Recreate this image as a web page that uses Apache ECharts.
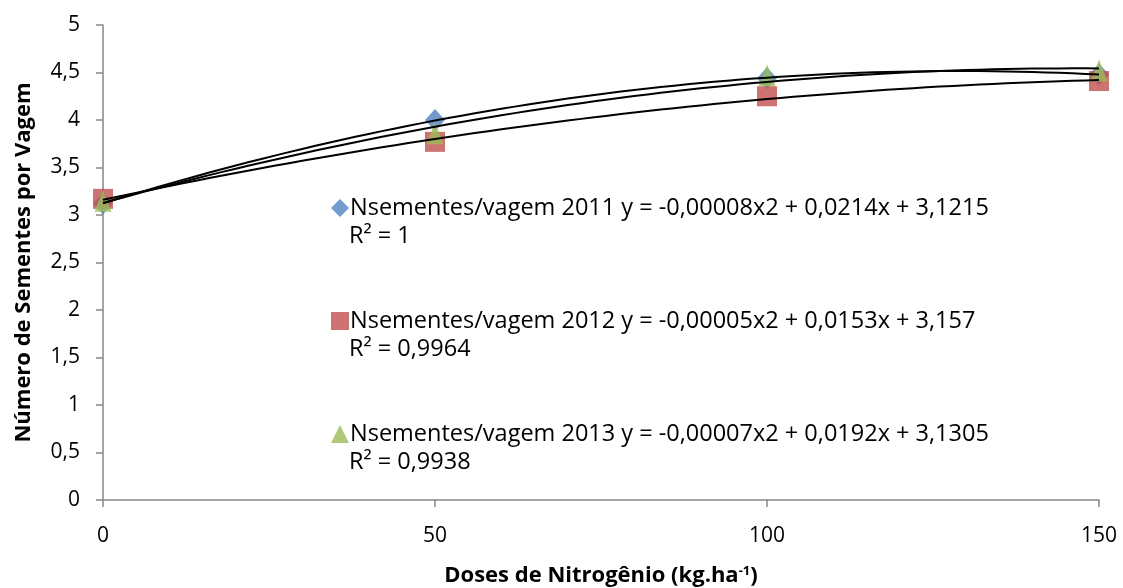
<!DOCTYPE html>
<html>
<head>
<meta charset="utf-8">
<script src="https://cdn.jsdelivr.net/npm/echarts@6/dist/echarts.min.js"></script>
<style>
  html, body { margin: 0; padding: 0; background: #fff; }
  #chart { width: 1123px; height: 588px; }
</style>
</head>
<body>
<div id="chart"></div>
<script>
// Nitrogen doses (kg/ha)
const doses = [0, 50, 100, 150];

// Seeds per pod, one array per season
const seeds2011 = [3.12, 4.00, 4.44, 4.48];
const seeds2012 = [3.17, 3.77, 4.25, 4.41];
const seeds2013 = [3.15, 3.86, 4.47, 4.52];

const seriesNames = ['Nsementes/vagem 2011', 'Nsementes/vagem 2012', 'Nsementes/vagem 2013'];
const equations = [
  'y = -0,00008x2 + 0,0214x + 3,1215',
  'y = -0,00005x2 + 0,0153x + 3,157',
  'y = -0,00007x2 + 0,0192x + 3,1305'
];
const rSquared = ['R² = 1', 'R² = 0,9964', 'R² = 0,9938'];

const FONT = '"Open Sans", "Noto Sans", sans-serif';

// Least-squares quadratic trendline through a season's points
function quadFit(xs, ys) {
  let s = [0, 0, 0, 0, 0], t = [0, 0, 0];
  for (let i = 0; i < xs.length; i++) {
    let p = 1;
    for (let k = 0; k < 5; k++) { s[k] += p; p *= xs[i]; }
    t[0] += ys[i]; t[1] += ys[i] * xs[i]; t[2] += ys[i] * xs[i] * xs[i];
  }
  const M = [[s[0], s[1], s[2], t[0]], [s[1], s[2], s[3], t[1]], [s[2], s[3], s[4], t[2]]];
  for (let c = 0; c < 3; c++) {
    for (let r = c + 1; r < 3; r++) {
      const f = M[r][c] / M[c][c];
      for (let k = c; k < 4; k++) M[r][k] -= f * M[c][k];
    }
  }
  const coef = [0, 0, 0];
  for (let r = 2; r >= 0; r--) {
    let v = M[r][3];
    for (let k = r + 1; k < 3; k++) v -= M[r][k] * coef[k];
    coef[r] = v / M[r][r];
  }
  return coef; // [c, b, a]
}

function trendPoints(ys) {
  const [c, b, a] = quadFit(doses, ys);
  const pts = [];
  for (let x = doses[0]; x <= doses[doses.length - 1]; x += 2) {
    pts.push([x, a * x * x + b * x + c]);
  }
  return pts;
}

const pairs = ys => doses.map((d, i) => [d, ys[i]]);

const chart = echarts.init(document.getElementById('chart'), null, { renderer: 'canvas' });

const trendStyle = {
  type: 'line', showSymbol: false, symbol: 'none', smooth: false,
  lineStyle: { color: '#000', width: 2 }, z: 5, silent: true, legendHoverLink: false
};

chart.setOption({
  animation: false,
  backgroundColor: '#fff',
  textStyle: { fontFamily: FONT },
  grid: { left: 103, right: 24, top: 25, bottom: 88, containLabel: false, outerBoundsMode: 'none' },
  legend: {
    data: seriesNames,
    orient: 'vertical',
    left: 326,
    top: 189,
    itemGap: 85,
    itemWidth: 18,
    itemHeight: 18,
    selectedMode: false,
    formatter: name => name + ' ' + equations[seriesNames.indexOf(name)],
    textStyle: { fontFamily: FONT, fontSize: 23.5, color: '#000', lineHeight: 28, padding: [0, 0, 0, -4] }
  },
  graphic: rSquared.map((txt, i) => ({
    type: 'text',
    x: 349,
    y: 236 + i * 113,
    style: { text: txt, font: '23.5px ' + FONT, fill: '#000', verticalAlign: 'middle' }
  })),
  xAxis: {
    type: 'value',
    min: 0, max: 150, interval: 50,
    name: 'Doses de Nitrogênio (kg.ha{sup|-1})',
    nameLocation: 'middle',
    nameGap: 65,
    nameTextStyle: {
      fontFamily: FONT, fontSize: 22, fontWeight: 'bold', color: '#000',
      rich: { sup: { fontSize: 13, fontWeight: 'bold', verticalAlign: 'top', padding: [0, 0, 9, 0], color: '#000' } }
    },
    axisLine: { show: true, lineStyle: { color: '#868686', width: 1.5 } },
    axisTick: { show: true, inside: false, length: 7, lineStyle: { color: '#868686', width: 1.5 } },
    axisLabel: { fontSize: 21, color: '#000', margin: 26, fontFamily: FONT },
    splitLine: { show: false }
  },
  yAxis: {
    type: 'value',
    min: 0, max: 5, interval: 0.5,
    name: 'Número de Sementes por Vagem',
    nameLocation: 'middle',
    nameGap: 68,
    nameRotate: 90,
    nameTextStyle: { fontFamily: FONT, fontSize: 22, fontWeight: 'bold', color: '#000' },
    axisLine: { show: true, lineStyle: { color: '#868686', width: 1.5 } },
    axisTick: { show: true, inside: false, length: 7, lineStyle: { color: '#868686', width: 1.5 } },
    axisLabel: {
      fontSize: 21, color: '#000', margin: 23, fontFamily: FONT,
      formatter: v => String(v).replace('.', ',')
    },
    splitLine: { show: false }
  },
  series: [
    { name: seriesNames[0], type: 'scatter', data: pairs(seeds2011), symbol: 'diamond', symbolSize: [20, 22],
      itemStyle: { color: '#4F81BD' }, z: 2 },
    { name: seriesNames[1], type: 'scatter', data: pairs(seeds2012), symbol: 'rect', symbolSize: 20,
      itemStyle: { color: '#C0504D' }, z: 3 },
    { name: seriesNames[2], type: 'scatter', data: pairs(seeds2013), symbol: 'triangle', symbolSize: [17, 22],
      itemStyle: { color: '#9BBB59' }, z: 4 },
    Object.assign({ name: 'trend2011', data: trendPoints(seeds2011) }, trendStyle),
    Object.assign({ name: 'trend2012', data: trendPoints(seeds2012) }, trendStyle),
    Object.assign({ name: 'trend2013', data: trendPoints(seeds2013) }, trendStyle)
  ]
});
</script>
</body>
</html>
